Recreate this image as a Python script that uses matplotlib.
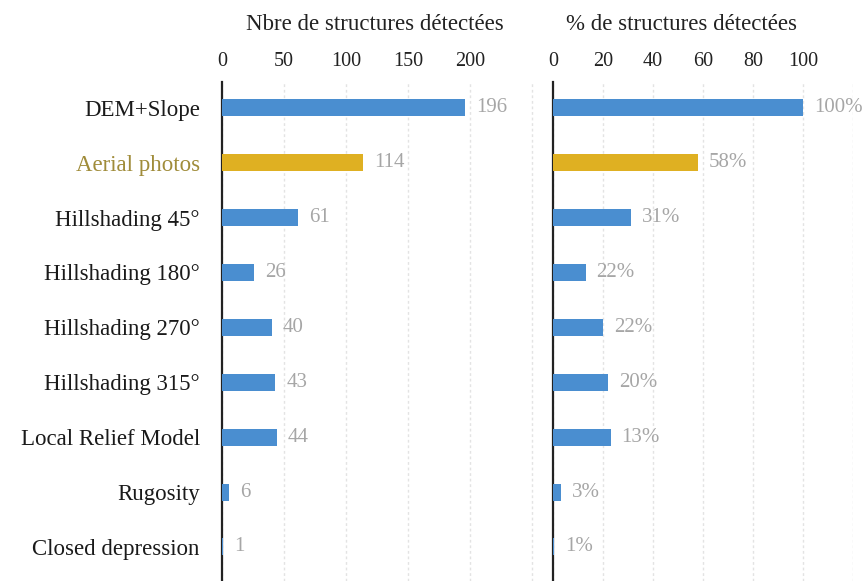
import matplotlib
matplotlib.use("Agg")
import matplotlib.pyplot as plt
import numpy as np

categories = ["DEM+Slope", "Aerial photos", "Hillshading 45°", "Hillshading 180°",
              "Hillshading 270°", "Hillshading 315°", "Local Relief Model",
              "Rugosity", "Closed depression"]
counts = [196, 114, 61, 26, 40, 43, 44, 6, 1]
pct_values = [100, 58, 31, 13, 20, 22, 23, 3, 0.5]
pct_labels = ["100%", "58%", "31%", "22%", "22%", "20%", "13%", "3%", "1%"]
left_ticks = [0, 50, 100, 150, 200]
right_ticks = [0, 20, 40, 60, 80, 100]

blue = "#4A8ED0"
gold = "#DFB022"
gold_text = "#A08C3A"
grey = "#A6A6A6"
colors = [gold if c == "Aerial photos" else blue for c in categories]

plt.rcParams['font.family'] = ['Liberation Serif', 'DejaVu Serif']

W, H = 867, 581
fig = plt.figure(figsize=(W / 100, H / 100), dpi=100)

top = 1 - 82 / H
axL = fig.add_axes([222 / W, 0, 314 / W, top])
axR = fig.add_axes([553 / W, 0, 300 / W, top])

y = np.arange(len(categories))
for ax, vals, labels, xmax, ticks, scale in [
        (axL, counts, [str(c) for c in counts], 253, left_ticks, 1.24),
        (axR, pct_values, pct_labels, 120, right_ticks, 2.5)]:
    ax.barh(y, vals, height=0.31, color=colors, zorder=3)
    for yi, v, lab in zip(y, vals, labels):
        ax.text(v + 11 / scale, yi, lab, va='center', ha='left', fontsize=15,
                color=grey, zorder=4)
    ax.set_xlim(0, xmax)
    ax.set_ylim(8.62, -0.47)
    ax.set_xticks(ticks)
    ax.xaxis.tick_top()
    ax.tick_params(axis='x', which='major', length=0, labelsize=14.5, pad=8,
                   colors='#222222')
    ax.set_yticks([])
    for s in ['top', 'right', 'bottom']:
        ax.spines[s].set_visible(False)
    ax.spines['left'].set_linewidth(1.6)
    ax.spines['left'].set_color('#222222')
    ax.set_xticks([ticks[-1] + (ticks[1] - ticks[0])], minor=True)
    ax.tick_params(axis='x', which='minor', length=0)
    ax.grid(axis='x', which='both', color='#E3E3E3', linestyle=(0, (2, 2)),
            linewidth=1.0, zorder=0)
    ax.set_axisbelow(True)

axL.set_yticks(y)
axL.set_yticklabels(categories, fontsize=16.5)
axL.tick_params(axis='y', length=0, pad=16)
for lbl in axL.get_yticklabels():
    if lbl.get_text() == "Aerial photos":
        lbl.set_color(gold_text)
    else:
        lbl.set_color('#1a1a1a')

fig.text(375 / W, 1 - 24 / H, "Nbre de structures détectées", ha='center',
         va='center', fontsize=16.5, color='#222222')
fig.text(682 / W, 1 - 24 / H, "% de structures détectées", ha='center',
         va='center', fontsize=16.5, color='#222222')

fig.savefig("out.png", dpi=100, facecolor='white')
